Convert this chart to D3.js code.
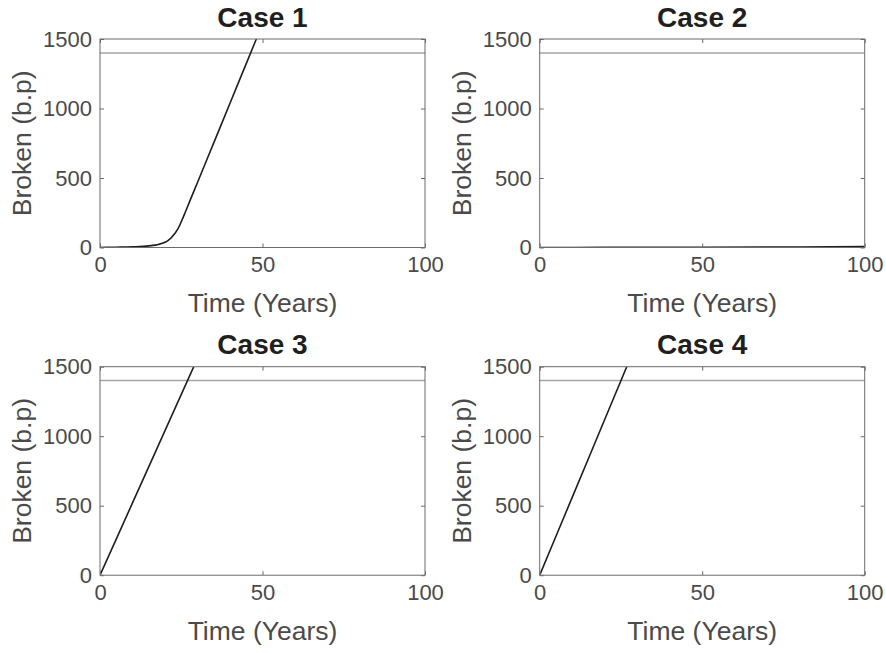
<!DOCTYPE html>
<html>
<head>
<meta charset="utf-8">
<script src="https://cdn.jsdelivr.net/npm/d3@7"></script>
<style>
  html, body { margin: 0; padding: 0; background: #fff; }
  svg { display: block; }
  text { font-family: "Liberation Sans", Arial, Helvetica, sans-serif; }
</style>
</head>
<body>
<svg id="chart" width="886" height="653"></svg>
<script>
// Simulated number of broken bonds over time for four cases
const caseTitles = ["Case 1", "Case 2", "Case 3", "Case 4"];

const case1Time   = [0, 5, 10, 15, 18, 20, 21, 22, 23, 24, 25, 26, 28, 30, 35, 40, 45, 50];
const case1Broken = [0, 2, 5, 12, 22, 38, 52, 72, 100, 135, 185, 240, 355, 468, 753, 1038, 1323, 1608];

const case2Time   = [0, 20, 50, 80, 100];
const case2Broken = [0, 1, 2, 4, 6];

const case3Time   = [0, 10, 20, 30];
const case3Broken = [0, 520, 1040, 1560];

const case4Time   = [0, 10, 20, 30];
const case4Broken = [0, 560, 1120, 1680];

// Failure threshold drawn as a horizontal reference line
const thresholdValue = 1400;

const xDomain = [0, 100];
const yDomain = [0, 1500];
const xTickValues = [0, 50, 100];
const yTickValues = [0, 500, 1000, 1500];

const xLabel = "Time (Years)";
const yLabel = "Broken (b.p)";

const seriesTimes  = [case1Time, case2Time, case3Time, case4Time];
const seriesValues = [case1Broken, case2Broken, case3Broken, case4Broken];

// Layout of the 2x2 grid of axes
const panelW = 325, panelH = 208.5;
const colLeft = [100, 539.7];
const rowTop = [39, 366.7];

const svg = d3.select("#chart");
const axisColor = "#6b6b6b";
const textColor = "#4a4a4a";
const tickFmt = d3.format("d");

caseTitles.forEach((title, i) => {
  const col = i % 2, row = Math.floor(i / 2);
  const g = svg.append("g")
    .attr("transform", `translate(${colLeft[col]},${rowTop[row]})`);

  const x = d3.scaleLinear().domain(xDomain).range([0, panelW]);
  const y = d3.scaleLinear().domain(yDomain).range([panelH, 0]);

  const clipId = "clip" + i;
  g.append("clipPath").attr("id", clipId)
    .append("rect").attr("width", panelW).attr("height", panelH);

  // threshold line
  g.append("line")
    .attr("x1", x(xDomain[0])).attr("x2", x(xDomain[1]))
    .attr("y1", y(thresholdValue)).attr("y2", y(thresholdValue))
    .attr("stroke", "#a6a6a6").attr("stroke-width", 1.5);

  // data curve
  const pts = seriesTimes[i].map((t, k) => [t, seriesValues[i][k]]);
  g.append("path")
    .datum(pts)
    .attr("clip-path", `url(#${clipId})`)
    .attr("fill", "none")
    .attr("stroke", "#1e1e1e")
    .attr("stroke-width", 1.6)
    .attr("stroke-linejoin", "round")
    .attr("d", d3.line().x(d => x(d[0])).y(d => y(d[1])).curve(d3.curveMonotoneX));

  // axes with inward ticks on all four sides
  const styleAxis = sel => {
    sel.attr("font-family", null);
    sel.select(".domain").remove();
    sel.selectAll(".tick line").attr("stroke", axisColor).attr("stroke-width", 1);
    sel.selectAll("text")
      .attr("fill", textColor)
      .style("font-size", "22px");
  };

  g.append("g").attr("transform", `translate(0,${panelH})`)
    .call(d3.axisBottom(x).tickValues(xTickValues).tickFormat(tickFmt).tickSize(-4))
    .call(styleAxis)
    .selectAll("text").attr("dy", "0.71em").attr("y", 9);

  g.append("g")
    .call(d3.axisLeft(y).tickValues(yTickValues).tickFormat(tickFmt).tickSize(-4))
    .call(styleAxis)
    .selectAll("text").attr("x", -8);

  g.append("g")
    .call(d3.axisTop(x).tickValues(xTickValues).tickSize(-4).tickFormat(""))
    .call(styleAxis);

  g.append("g").attr("transform", `translate(${panelW},0)`)
    .call(d3.axisRight(y).tickValues(yTickValues).tickSize(-4).tickFormat(""))
    .call(styleAxis);

  // box
  g.append("rect")
    .attr("width", panelW).attr("height", panelH)
    .attr("fill", "none").attr("stroke", axisColor).attr("stroke-width", 1);

  // labels
  g.append("text")
    .attr("x", panelW / 2).attr("y", panelH + 64.5)
    .attr("text-anchor", "middle")
    .attr("fill", textColor)
    .style("font-size", "26.5px")
    .text(xLabel);

  g.append("text")
    .attr("transform", `translate(-69,${panelH / 2}) rotate(-90)`)
    .attr("text-anchor", "middle")
    .attr("fill", textColor)
    .style("font-size", "26.5px")
    .text(yLabel);

  g.append("text")
    .attr("x", panelW / 2).attr("y", -12.3)
    .attr("text-anchor", "middle")
    .attr("fill", "#1f1f1f")
    .style("font-size", "28px")
    .style("font-weight", "bold")
    .text(title);
});
</script>
</body>
</html>
